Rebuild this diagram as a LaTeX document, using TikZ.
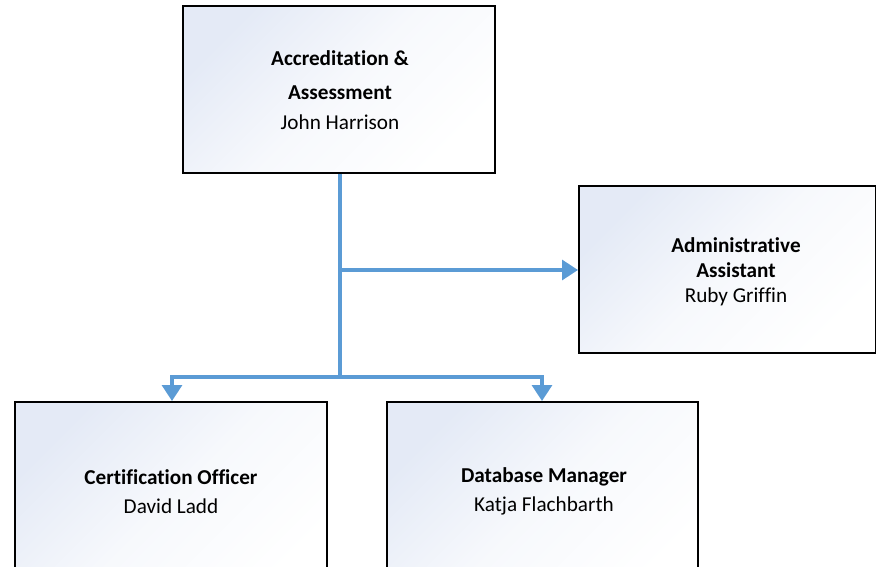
\documentclass[tikz,border=0pt]{standalone}
\usepackage{fontspec}
\setmainfont[Ligatures=NoCommon]{Carlito}
\usetikzlibrary{arrows.meta}
\definecolor{conn}{RGB}{91,155,213}
\definecolor{boxtop}{RGB}{228,234,246}
\tikzset{
  orgbox/.style={draw=black, line width=2.6pt, top color=boxtop, bottom color=white, middle color=boxtop!30!white, shading angle=45},
  conline/.style={draw=conn, line width=3.2pt},
  conarrow/.style={conline, -{Triangle[length=16pt,width=20pt]}},
  ttl/.style={font=\fontsize{21.2}{22}\selectfont\bfseries, inner sep=0pt},
  nm/.style={font=\fontsize{21.2}{22}\selectfont, inner sep=0pt}
}
\begin{document}
\begin{tikzpicture}[x=1pt,y=-1pt]
\useasboundingbox (0,0) rectangle (876,567);
\begin{scope}
\clip (0,0) rectangle (876,567);
\path[orgbox] (183,6) rectangle (495,173);
\path[orgbox] (579,186) rectangle (876,353);
\path[orgbox] (15,402) rectangle (327,600);
\path[orgbox] (387,402) rectangle (698,600);
\end{scope}
\coordinate (top) at (340,174);
\coordinate (j1) at (340,270);
\coordinate (j2) at (340,377);
\coordinate (l1) at (172,377);
\coordinate (r1) at (542,377);
\coordinate (aa) at (578,270);
\coordinate (co) at (172,401);
\coordinate (db) at (542,401);
\node[ttl] (t1) at (340,58) {Accreditation \&};
\node[ttl] (t2) at (340,93) {Assessment};
\node[nm] (n1) at (340,122) {John Harrison};
\node[ttl] (t3) at (736,245) {Administrative};
\node[ttl] (t4) at (736,270) {Assistant};
\node[nm] (n2) at (736,297) {Ruby Griffin};
\node[ttl] (t5) at (171,477) {Certification Officer};
\node[nm] (n3) at (171,506) {David Ladd};
\node[ttl] (t6) at (544,477) {Database Manager};
\node[nm] (n4) at (544,506) {Katja Flachbarth};
\draw[conline] (top) -- (j2);
\draw[conarrow] (j1) -- (aa);
\draw[conarrow] (j2) -- (l1) -- (co);
\draw[conarrow] (j2) -- (r1) -- (db);
\end{tikzpicture}
\end{document}
